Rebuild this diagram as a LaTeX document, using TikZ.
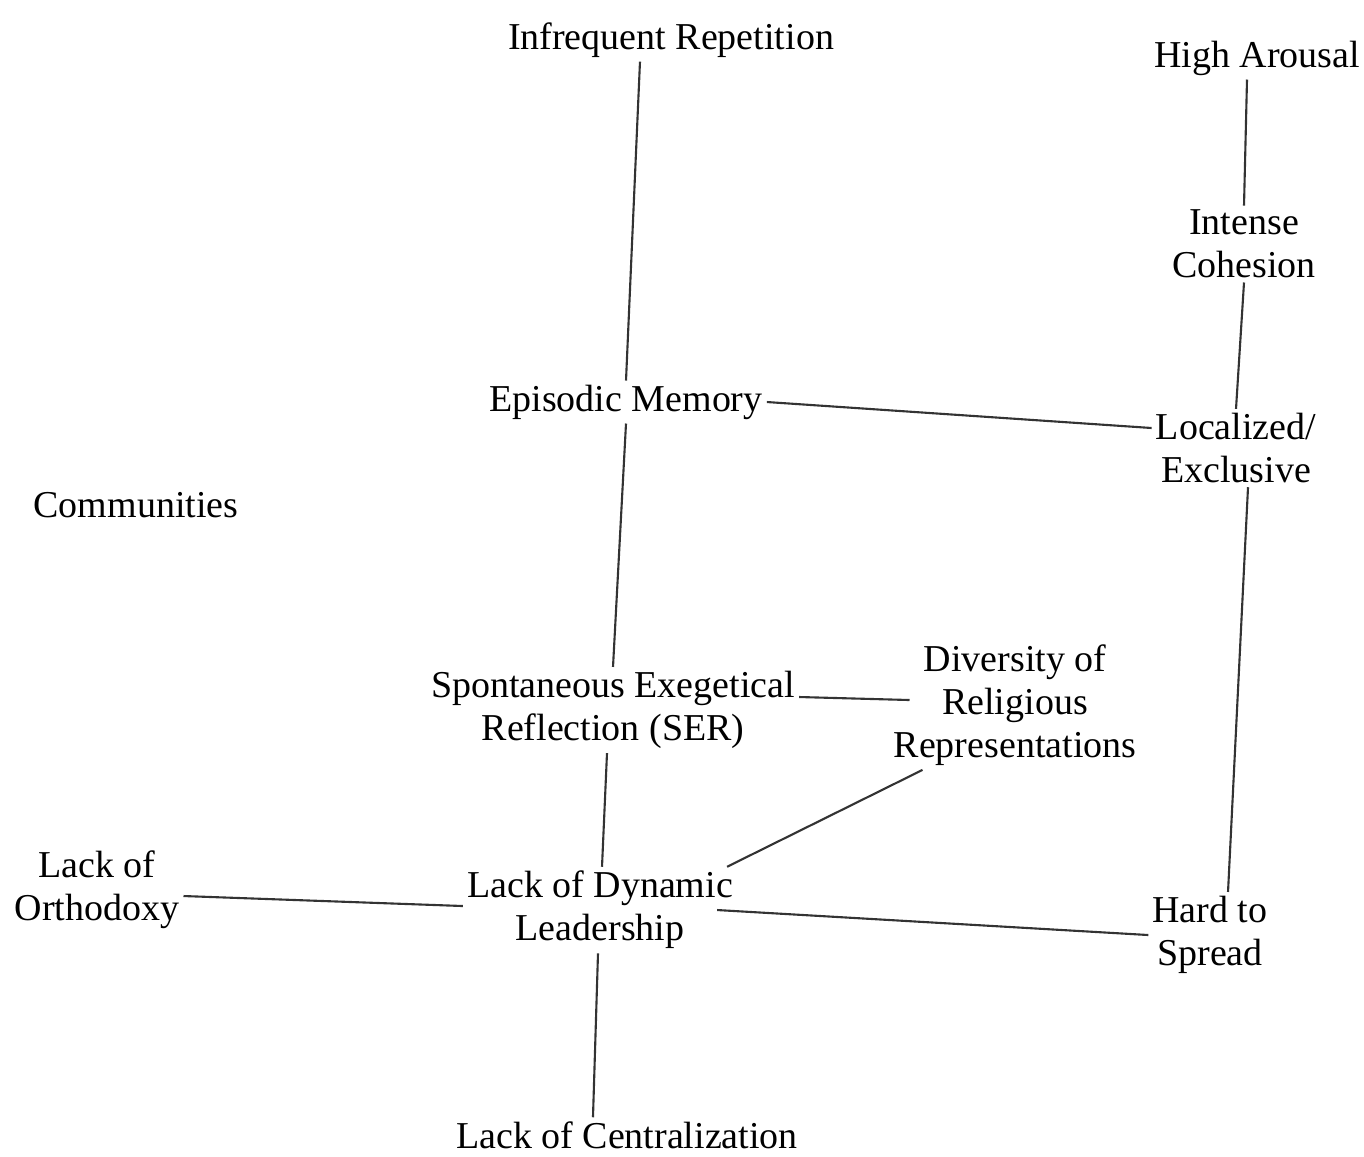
\documentclass[tikz,border=0pt]{standalone}
\usepackage{fontspec}
\setmainfont{Liberation Serif}
\tikzset{
	concept/.style={align=center,inner sep=1pt,font=\fontsize{10.8}{12.3}\selectfont},
	link/.style={black!80,line width=0.6pt}
}
\begin{document}
\begin{tikzpicture}[x=0.01cm,y=-0.01cm]
	\useasboundingbox (0,0) rectangle (1364,1156);
	% middle column
	\node[concept] (ir) at (671,40) {Infrequent Repetition};
	\node[concept] (em) at (626,402) {Episodic Memory};
	\node[concept] (ser) at (613,710) {Spontaneous Exegetical\\Reflection (SER)};
	\node[concept] (ldl) at (600,910) {Lack of Dynamic\\Leadership};
	\node[concept] (lc) at (627,1135) {Lack of Centralization};
	% right column
	\node[concept] (ha) at (1257,58) {High Arousal};
	\node[concept] (ic) at (1244,244) {Intense\\Cohesion};
	\node[concept] (loc) at (1236,448) {Localized/\\Exclusive};
	\node[concept] (div) at (1015,705) {Diversity of\\Religious\\Representations};
	\node[concept] (hs) at (1210,935) {Hard to\\Spread};
	% left
	\node[concept] (com) at (136,505) {Communities};
	\node[concept] (lo) at (97,890) {Lack of\\Orthodoxy};
	% links
	\draw[link] ([xshift=-0.31cm]ir.south) -- (em.north);
	\draw[link] (em.south) -- (ser.north);
	\draw[link] ([xshift=-0.06cm]ser.south) -- ([xshift=0.02cm]ldl.north);
	\draw[link] ([xshift=-0.02cm]ldl.south) -- ([xshift=-0.34cm]lc.north);
	\draw[link] ([yshift=-0.06cm]lo.east) -- ([yshift=0.04cm]ldl.west);
	\draw[link] ([xshift=-0.2cm]ldl.east) -- (hs.west);
	\draw[link] ([yshift=0.13cm]ser.east) -- ([yshift=0.05cm,xshift=0.2cm]div.west);
	\draw[link] ([xshift=-0.1cm]ldl.north east) -- ([xshift=0.33cm]div.south west);
	\draw[link] (em.east) -- ([yshift=0.2cm]loc.west);
	\draw[link] ([xshift=-0.1cm]ha.south) -- (ic.north);
	\draw[link] (ic.south) -- (loc.north);
	\draw[link] ([xshift=0.12cm]loc.south) -- ([xshift=0.18cm]hs.north);
\end{tikzpicture}
\end{document}
